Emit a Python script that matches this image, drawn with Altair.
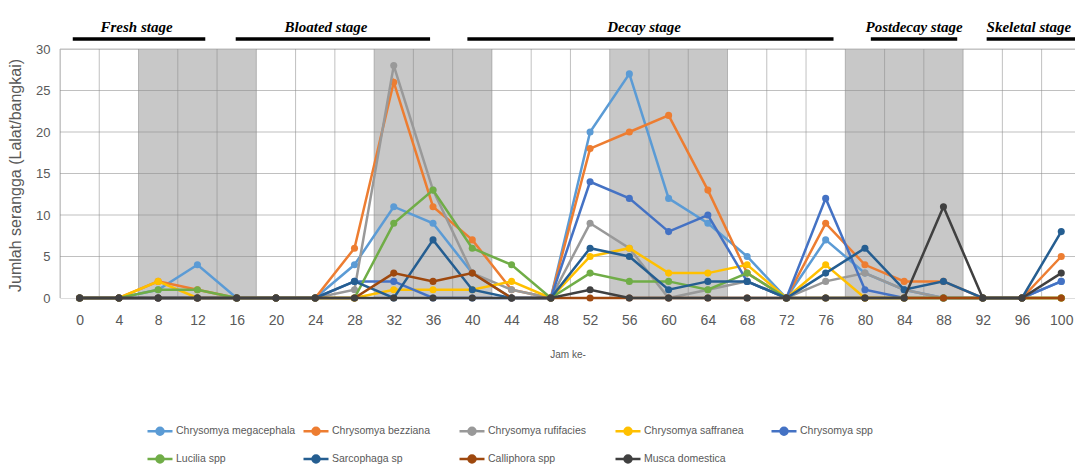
import altair as alt
import pandas as pd

hours = list(range(0, 101, 4))

series_names = [
    "Chrysomya megacephala",
    "Chrysomya bezziana",
    "Chrysomya rufifacies",
    "Chrysomya saffranea",
    "Chrysomya spp",
    "Lucilia spp",
    "Sarcophaga sp",
    "Calliphora spp",
    "Musca domestica",
]
series_colors = [
    "#5B9BD5", "#ED7D31", "#999999", "#FFC000", "#4472C4",
    "#70AD47", "#255E91", "#9E480E", "#404040",
]

megacephala = [0, 0, 1, 4, 0, 0, 0, 4, 11, 9, 3, 0, 0, 20, 27, 12, 9, 5, 0, 7, 3, 1, 0, 0, 0, 2]
bezziana = [0, 0, 2, 1, 0, 0, 0, 6, 26, 11, 7, 1, 0, 18, 20, 22, 13, 3, 0, 9, 4, 2, 2, 0, 0, 5]
rufifacies = [0, 0, 0, 0, 0, 0, 0, 1, 28, 13, 3, 1, 0, 9, 6, 0, 1, 2, 0, 2, 3, 1, 0, 0, 0, 0]
saffranea = [0, 0, 2, 0, 0, 0, 0, 0, 1, 1, 1, 2, 0, 5, 6, 3, 3, 4, 0, 4, 0, 0, 0, 0, 0, 0]
chrysomya_spp = [0, 0, 0, 0, 0, 0, 0, 2, 2, 0, 0, 0, 0, 14, 12, 8, 10, 2, 0, 12, 1, 0, 0, 0, 0, 2]
lucilia = [0, 0, 1, 1, 0, 0, 0, 0, 9, 13, 6, 4, 0, 3, 2, 2, 1, 3, 0, 0, 0, 0, 0, 0, 0, 0]
sarcophaga = [0, 0, 0, 0, 0, 0, 0, 2, 0, 7, 1, 0, 0, 6, 5, 1, 2, 2, 0, 3, 6, 1, 2, 0, 0, 8]
calliphora = [0, 0, 0, 0, 0, 0, 0, 0, 3, 2, 3, 0, 0, 0, 0, 0, 0, 0, 0, 0, 0, 0, 0, 0, 0, 0]
musca = [0, 0, 0, 0, 0, 0, 0, 0, 0, 0, 0, 0, 0, 1, 0, 0, 0, 0, 0, 0, 0, 0, 11, 0, 0, 3]

series_values = [megacephala, bezziana, rufifacies, saffranea, chrysomya_spp,
                 lucilia, sarcophaga, calliphora, musca]

# shaded (night) periods, in hours
shade_start = [6, 30, 54, 78]
shade_end = [18, 42, 66, 90]

# gridlines
grid_x = list(range(-2, 101, 4))
grid_y = [5, 10, 15, 20, 25, 30]

# decomposition stages
stage_names = ["Fresh stage", "Bloated stage", "Decay stage", "Postdecay stage", "Skeletal stage"]
stage_start = [-0.7, 15.9, 39.5, 80.6, 92.4]
stage_end = [12.8, 35.7, 76.8, 89.4, 101.6]
stage_mid = [5.8, 25.1, 57.5, 85.0, 96.7]

rows = []
for i, (name, vals) in enumerate(zip(series_names, series_values)):
    for h, v in zip(hours, vals):
        rows.append({"hour": h, "count": v, "series": name, "idx": i})
df = pd.DataFrame(rows)

shade_df = pd.DataFrame({"s": shade_start, "e": shade_end})
gx_df = pd.DataFrame({"gx": grid_x})
gy_df = pd.DataFrame({"gy": grid_y})
stage_df = pd.DataFrame({"name": stage_names, "s": stage_start, "e": stage_end, "m": stage_mid})

SANS = "Liberation Sans"
GREY = "#595959"

xscale = alt.Scale(domain=[-2, 101.4], nice=False, zero=False)
yscale = alt.Scale(domain=[0, 30], nice=False)

xaxis = alt.Axis(values=hours, grid=False, domain=False, ticks=False, labelPadding=15,
                 labelFont=SANS, labelFontSize=14, labelColor=GREY,
                 title="Jam ke-", titleFont=SANS, titleFontSize=10, titleColor=GREY,
                 titleFontWeight="normal", titlePadding=22)
yaxis = alt.Axis(values=[0, 5, 10, 15, 20, 25, 30], grid=False, domain=False, ticks=False,
                 labelPadding=10, labelFont=SANS, labelFontSize=13, labelColor=GREY,
                 title="Jumlah serangga (Lalat/bangkai)", titleFont=SANS,
                 titleFontSize=16, titleColor=GREY, titleFontWeight="normal",
                 titleX=-45, titleY=126, titleAlign="center", titleBaseline="middle")

X = lambda f: alt.X(f, scale=xscale, axis=xaxis)
Y = lambda f: alt.Y(f, scale=yscale, axis=yaxis)

shade = alt.Chart(shade_df).mark_rect(color="#c8c8c8").encode(x=X("s:Q"), x2="e:Q")
vgrid = alt.Chart(gx_df).mark_rule(color="#8c8c8c", opacity=0.55, strokeWidth=1).encode(
    x=X("gx:Q"))
hgrid = alt.Chart(gy_df).mark_rule(color="#8c8c8c", opacity=0.55, strokeWidth=1).encode(
    y=Y("gy:Q"))

legend = alt.Legend(
    title=None, orient="none", legendX=86, legendY=368, columns=5, direction="horizontal",
    gridAlign="all",
    symbolType="M-1,0L1,0M-0.28,0A0.28,0.28,0,1,0,0.28,0A0.28,0.28,0,1,0,-0.28,0Z",
    symbolSize=625, symbolStrokeWidth=2.5, labelFont=SANS, labelFontSize=10.5,
    labelColor=GREY, labelOffset=2, columnPadding=2, rowPadding=5, labelLimit=300,
)
color = alt.Color("series:N", scale=alt.Scale(domain=series_names, range=series_colors),
                  legend=legend, sort=series_names)

series_layers = []
for i in range(len(series_names)):
    base = alt.Chart(df).transform_filter(alt.datum.idx == i)
    series_layers.append(base.mark_line(strokeWidth=2.5).encode(
        x=X("hour:Q"), y=Y("count:Q"), color=color, order="hour:Q"))
    series_layers.append(base.mark_circle(size=50, opacity=1).encode(
        x=X("hour:Q"), y=Y("count:Q"), color=color))

stage_rules = alt.Chart(stage_df).mark_rule(color="black", strokeWidth=3.5).encode(
    x=X("s:Q"), x2="e:Q", y=alt.value(-10))
stage_text = alt.Chart(stage_df).mark_text(
    font="Liberation Serif", fontSize=15, fontWeight="bold", fontStyle="italic",
    color="black", baseline="alphabetic", align="center").encode(
    x=X("m:Q"), y=alt.value(-17), text="name:N")

chart = alt.layer(shade, vgrid, hgrid, *series_layers, stage_rules, stage_text).properties(
    width=1015, height=249,
    autosize=alt.AutoSizeParams(type="none"),
    padding={"left": 52, "top": 41, "right": 0, "bottom": 167},
).configure_view(stroke=None).configure(background="white")

chart.save("out.html", embed_options={"renderer": "svg", "actions": False})
